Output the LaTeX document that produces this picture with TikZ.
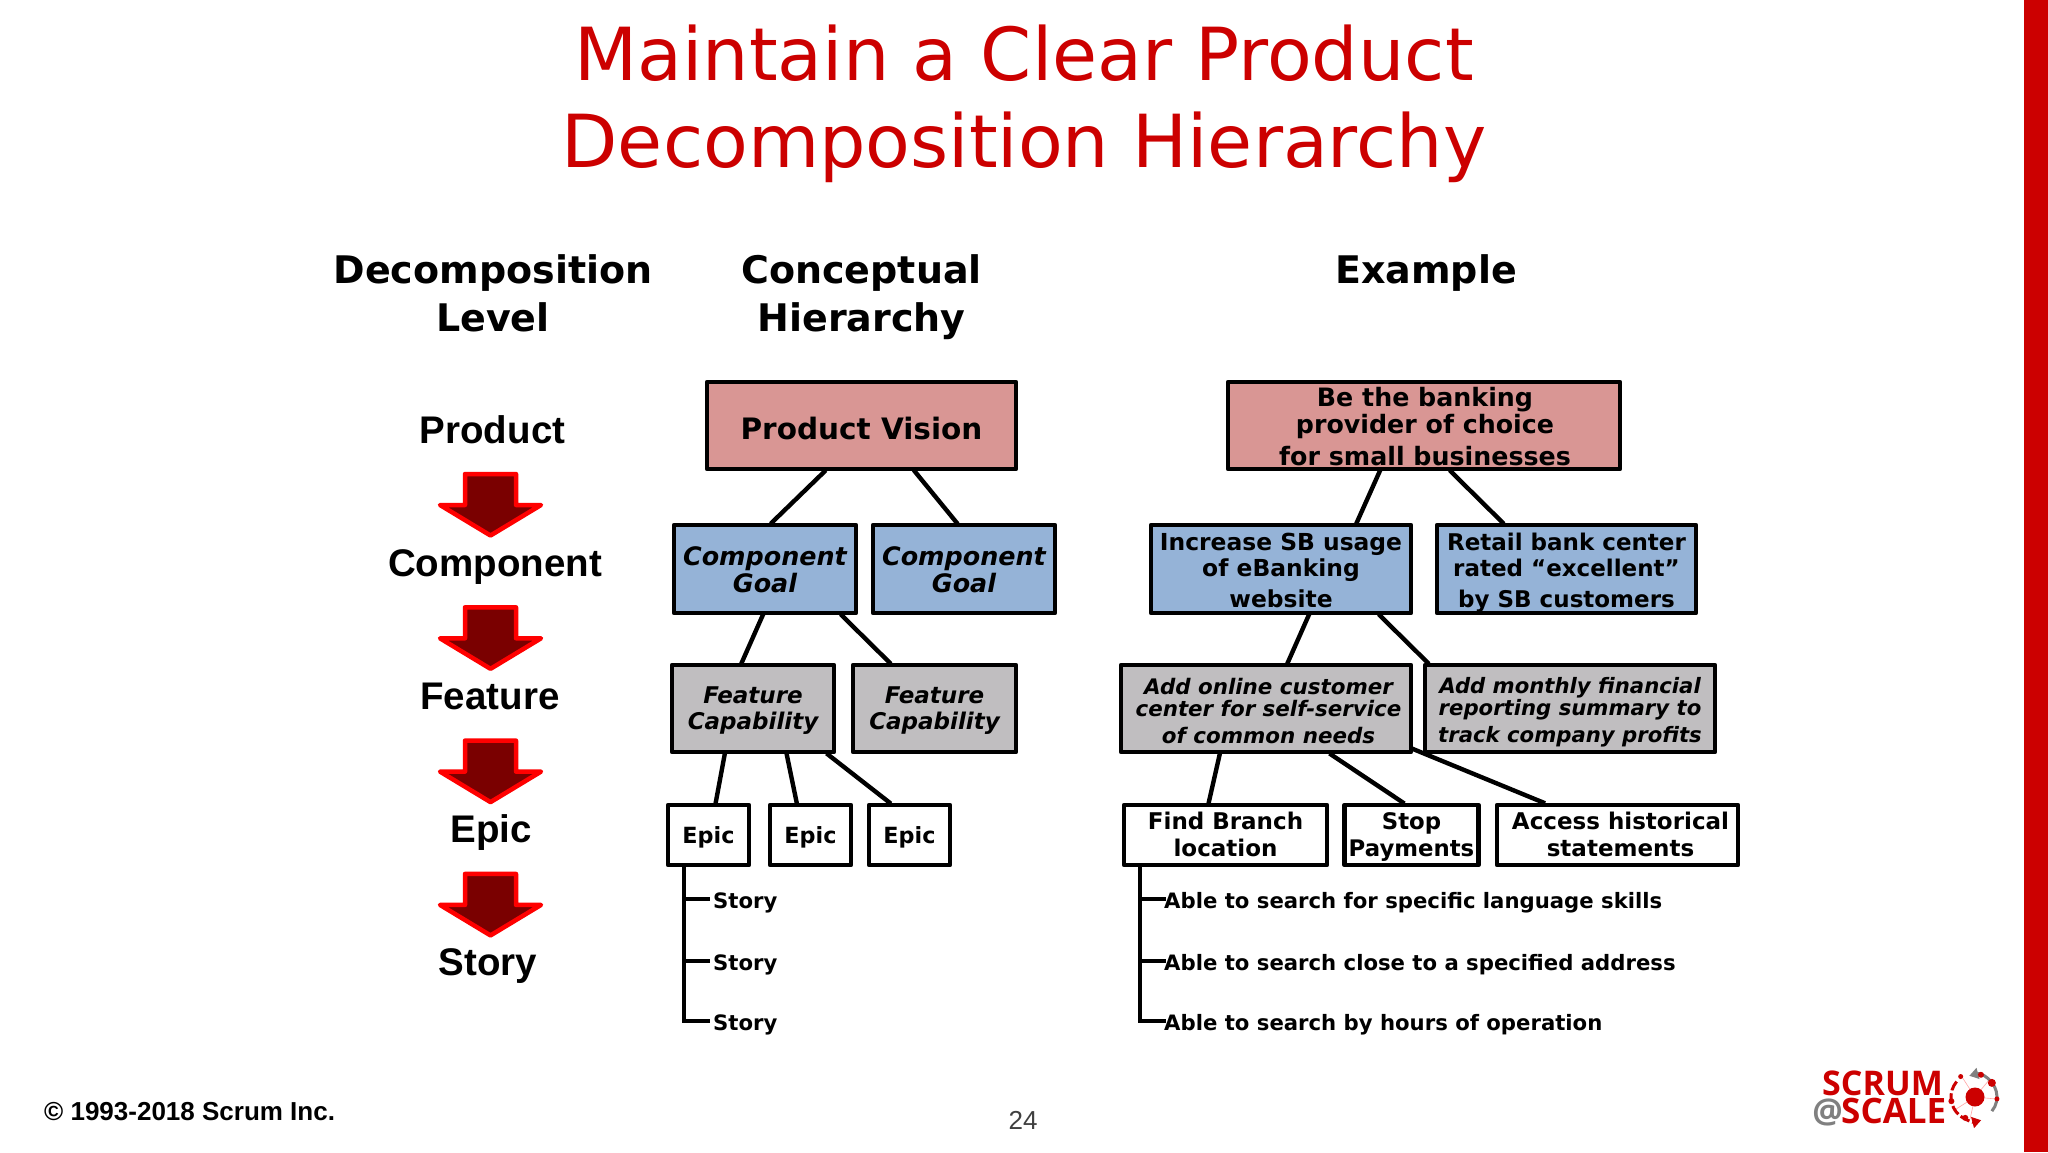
\documentclass[tikz,border=0pt]{standalone}
\usepackage{fontspec}
\setmainfont{DejaVu Sans}
\newfontfamily\libfont{Liberation Sans}
\newfontfamily\logofont{Open Sans}
\usetikzlibrary{calc,shadows,arrows.meta}
\definecolor{slidered}{HTML}{CC0000}
\definecolor{pinkbox}{HTML}{D99694}
\definecolor{bluebox}{HTML}{95B3D7}
\definecolor{greybox}{HTML}{C0BEC0}
\definecolor{darkarrow}{HTML}{7A0000}
\newcommand{\fs}[2]{\fontsize{#1}{#2}\selectfont}
\newcommand{\nudge}[1]{\hspace*{#1pt}}
\tikzset{
  box/.style={draw=black,line width=4.6pt,inner sep=0pt,align=center,line join=round,
    drop shadow={shadow xshift=0.5pt,shadow yshift=-2pt,opacity=.25,fill=black}},
  size/.style 2 args={minimum width=#1pt,minimum height=#2pt},
  basedown/.style={text height=#1pt,text depth=0pt},
  pinkb/.style={box,fill=pinkbox},
  blueb/.style={box,fill=bluebox},
  greyb/.style={box,fill=greybox},
  whiteb/.style={box,fill=white},
  conn/.style={draw=black,line width=4.4pt,shorten >=-1.5pt,shorten <=-1.5pt},
  head/.style={font=\fs{38}{48}\bfseries,align=center,inner sep=0pt,anchor=base},
  level/.style={font=\libfont\fs{38.5}{48}\bfseries,inner sep=0pt,anchor=base},
  story/.style={font=\fs{21.2}{24}\bfseries,inner ysep=0pt,anchor=west,text height=18pt,text depth=0pt},
  downarrow/.style={draw=red,fill=darkarrow,line width=4.5pt,line join=round,
    drop shadow={shadow xshift=0.5pt,shadow yshift=-2pt,opacity=.2,fill=black}},
}
\newcommand{\conn}[4]{\draw[conn] ($(#1.south west)+(#2,0)$) -- ($(#3.north west)+(#4,0)$);}
\begin{document}
\begin{tikzpicture}[x=1pt,y=-1pt]
\useasboundingbox (0,0) rectangle (2048,1152);
\fill[white] (0,0) rectangle (2048,1152);
% side bar
\path[fill=slidered] (2024,0) rectangle (2048,1152);
% title
\node[font=\fs{73.2}{87},text=slidered,align=center,inner sep=0pt,anchor=base] (title) at (1024,167)
  {Maintain a Clear Product\\Decomposition Hierarchy};
% headers
\node[head] (h1) at (493,331) {Decomposition\\Level};
\node[head] (h2) at (861.5,331) {Conceptual\\Hierarchy};
\node[head] (h3) at (1426,283) {Example};
% levels
\node[level] (l1) at (492.5,443) {Product};
\node[level] (l2) at (495,576) {Component};
\node[level] (l3) at (490,709) {Feature};
\node[level] (l4) at (491,842) {Epic};
\node[level] (l5) at (488,975) {Story};
% arrows
\foreach \dy in {0,133.3,266.6,399.9}{
  \path[downarrow,yshift=-\dy pt] (465,474) -- (516,474) -- (516,505) -- (541,505) -- (490.5,535.5) -- (440,505) -- (465,505) -- cycle;
}
% conceptual boxes
\node[pinkb,size={309}{87},basedown=27,font=\fs{29.5}{32}\bfseries] (pv) at (861.5,425.5) {Product Vision};
\node[blueb,size={182}{88},basedown=46,font=\fs{25.4}{26.5}\bfseries\itshape] (cg1) at (765,569) {Component\\Goal};
\node[blueb,size={182}{88},basedown=46,font=\fs{25.4}{26.5}\bfseries\itshape] (cg2) at (964,569) {Component\\Goal};
\node[greyb,size={162}{87},basedown=41,font=\fs{23}{26}\bfseries\itshape] (f1) at (753,708.5) {Feature\\Capability};
\node[greyb,size={163}{87},basedown=41,font=\fs{23}{26}\bfseries\itshape] (f2) at (934.5,708.5) {Feature\\Capability};
\node[whiteb,size={81}{60},basedown=16,font=\fs{22.3}{26}\bfseries] (e1) at (708.5,835) {Epic};
\node[whiteb,size={81}{60},basedown=16,font=\fs{22.3}{26}\bfseries] (e2) at (810.5,835) {Epic};
\node[whiteb,size={81}{60},basedown=16,font=\fs{22.3}{26}\bfseries] (e3) at (909.5,835) {Epic};
% example boxes
\node[pinkb,size={392}{87},basedown=79,font=\fs{25.3}{27}\bfseries] (bb) at (1424,425.5) {\nudge{2}Be the banking\\\nudge{2}provider of choice\\[5pt]\nudge{2}for small businesses};
\node[blueb,size={260}{88},basedown=76,font=\fs{23.4}{26}\bfseries] (inc) at (1281,569) {Increase SB usage\\of eBanking\\[5pt]website};
\node[blueb,size={259}{88},basedown=76,font=\fs{23}{26}\bfseries] (ret) at (1566.5,569) {Retail bank center\\rated “excellent”\\[5pt]by SB customers};
\node[greyb,size={290}{87},basedown=69,font=\fs{21.4}{22}\bfseries\itshape] (add) at (1266,708.5) {\nudge{5}Add online customer\\\nudge{5}center for self-service\\[5pt]\nudge{5}of common needs};
\node[greyb,size={290}{87},basedown=67,font=\fs{21.2}{22}\bfseries\itshape] (mon) at (1570,708.5) {Add monthly financial\\reporting summary to\\[5pt]track company profits};
\node[whiteb,size={203}{60},basedown=42,font=\fs{23}{27}\bfseries] (find) at (1225.5,835) {Find Branch\\location};
\node[whiteb,size={134}{60},basedown=42,font=\fs{22.8}{27}\bfseries] (stop) at (1411.5,835) {Stop\\Payments};
\node[whiteb,size={241}{60},basedown=42,font=\fs{23}{27}\bfseries] (acc) at (1617.5,835) {\nudge{6}Access historical\\\nudge{6}statements};
% connectors
\conn{pv}{120}{cg1}{100}
\conn{pv}{210}{cg2}{86}
\conn{cg1}{91}{f1}{72}
\conn{cg1}{170}{f2}{39}
\conn{f1}{55}{e1}{50}
\conn{f1}{117}{e2}{29}
\conn{f1}{158}{e3}{23}
\conn{bb}{154}{inc}{208}
\conn{bb}{225}{ret}{68}
\conn{inc}{160}{add}{169}
\conn{inc}{231}{mon}{5}
\conn{add}{101}{find}{87}
\conn{add}{212}{stop}{61}
\draw[conn] ($(add.south east)+(-2,-6)$) -- ($(acc.north west)+(49,0)$);
% stories
\node[story,inner xsep=5pt] (s1) at (708,899) {Story};
\node[story,inner xsep=5pt] (s2) at (708,961) {Story};
\node[story,inner xsep=5pt] (s3) at (708,1021) {Story};
\node[story,inner xsep=0pt] (a1) at (1164,899) {Able to search for specific language skills};
\node[story,inner xsep=0pt] (a2) at (1164,961) {Able to search close to a specified address};
\node[story,inner xsep=0pt] (a3) at (1164,1021) {Able to search by hours of operation};
\draw[conn] ($(e1.south west)+(18,0)$) |- (s3.west);
\draw[conn] ($(e1.south west)+(18,0)$) |- (s1.west);
\draw[conn] ($(e1.south west)+(18,0)$) |- (s2.west);
\draw[conn] ($(find.south west)+(18,0)$) |- (a3.west);
\draw[conn] ($(find.south west)+(18,0)$) |- (a1.west);
\draw[conn] ($(find.south west)+(18,0)$) |- (a2.west);
% footer
\node[font=\libfont\fs{26}{30}\bfseries,anchor=base west,inner sep=0pt] (copy) at (44,1120) {© 1993-2018 Scrum Inc.};
\node[font=\libfont\fs{26}{30},text=black!75,anchor=base,inner sep=0pt] (page) at (1023,1129) {24};
% logo
\node[font=\logofont\fs{34}{34}\bfseries,text=slidered,anchor=base west,inner sep=0pt] (scrum) at (1822,1095) {SCRUM};
\node[font=\logofont\fs{35}{34}\bfseries,text=slidered,anchor=base west,inner sep=0pt] (scale) at (1841,1123) {SCALE};
\node[font=\logofont\fs{34}{34}\bfseries,text=black!50,anchor=base east,inner sep=0pt] (at) at (1843,1123) {@};
\coordinate (lc) at (1975,1097);
\draw[red!35,line width=.6pt] (lc) -- ++(-22,14) (lc) -- ++(14,-17) (lc) -- ++(-13,-20) (lc) -- ++(21,2) (lc) -- ++(-5,22);
\fill[slidered] (lc) circle (9.5);
\draw[black!50,line width=3pt,{Triangle[length=9pt,width=11pt]}-] ($(lc)+(-105:22)$) arc[start angle=-105,end angle=40,radius=22];
\draw[slidered,line width=3pt,dash pattern=on 10pt off 3pt,-{Triangle[length=9pt,width=11pt]}] ($(lc)+(220:24)$) arc[start angle=220,end angle=75,radius=24];
\foreach \a/\r/\s in {-75/23/3,-40/22/4,5/22/2.5,235/25/2.5,170/24/3,115/23/3}{
  \fill[slidered] ($(lc)+(\a:\r)$) circle (\s);
}
\end{tikzpicture}
\end{document}
